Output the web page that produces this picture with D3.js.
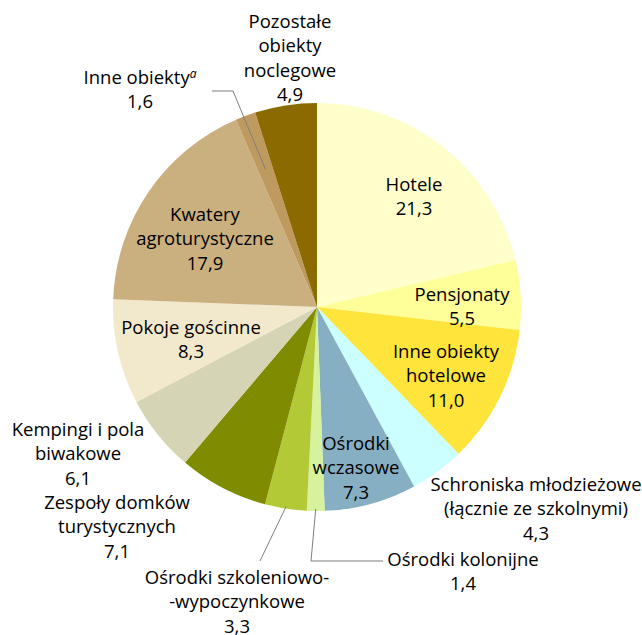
<!DOCTYPE html>
<html>
<head>
<meta charset="utf-8">
<script src="https://cdn.jsdelivr.net/npm/d3@7"></script>
<style>
  body { margin: 0; background: #fff; }
  text { font-family: "Open Sans", sans-serif; font-size: 18.5px; fill: #000; }
</style>
</head>
<body>
<svg id="chart" width="642" height="635"></svg>
<script>
// udział miejsc noclegowych wg rodzaju obiektu (%)
let categories = ['Hotele', 'Pensjonaty', 'Inne obiekty hotelowe', 'Schroniska młodzieżowe',
  'Ośrodki wczasowe', 'Ośrodki kolonijne', 'Ośrodki szkoleniowo-wypoczynkowe',
  'Zespoły domków turystycznych', 'Kempingi i pola biwakowe', 'Pokoje gościnne',
  'Kwatery agroturystyczne', 'Inne obiekty', 'Pozostałe obiekty noclegowe']
let values = [21.3, 5.5, 11.0, 4.3, 7.3, 1.4, 3.3, 7.1, 6.1, 8.3, 17.9, 1.6, 4.9]
let labelLines = [
  ['Hotele'], ['Pensjonaty'], ['Inne obiekty', 'hotelowe'],
  ['Schroniska młodzieżowe', '(łącznie ze szkolnymi)'], ['Ośrodki', 'wczasowe'],
  ['Ośrodki kolonijne'], ['Ośrodki szkoleniowo-', '-wypoczynkowe'],
  ['Zespoły domków', 'turystycznych'], ['Kempingi i pola', 'biwakowe'],
  ['Pokoje gościnne'], ['Kwatery', 'agroturystyczne'], ['Inne obiekty'],
  ['Pozostałe', 'obiekty', 'noclegowe']
]
let colors = ['#ffffcc', '#ffff99', '#ffe53b', '#ccffff', '#87afc3', '#d6f29c', '#b4c936',
  '#7f8c00', '#d5d5b6', '#f2e9cd', '#cbb07f', '#bf9a5e', '#8b6b00']

// label placement (centre x, first baseline y) and leader lines
let labelPos = [
  [414, 191], [462, 301], [446, 358], [536, 491], [356, 450], [463, 566], [237, 584],
  [117, 509], [78, 436], [191, 334], [205, 221], [140, 84], [290, 28]
]
let leaders = { 5: [[311, 561], [383, 561]], 6: [[260, 561]], 11: [[233, 91], [212, 91]] }
let leaderR = { 5: 0.99, 6: 0.99, 11: 0.72 }

let cx = 317, cy = 307, r = 204
let lineH = 24.3
let fmt = v => d3.format('.1f')(v).replace('.', ',')

let svg = d3.select('#chart')
let pie = d3.pie().sort(null).value(d => d)
let arcs = pie(values)
let arc = d3.arc().innerRadius(0).outerRadius(r)

let g = svg.append('g').attr('transform', `translate(${cx}, ${cy})`)
g.selectAll('path')
  .data(arcs)
  .enter()
    .append('path')
    .attr('d', arc)
    .style('fill', (d, i) => colors[i])

// leader lines
Object.keys(leaders).forEach(k => {
  let a = arcs[k]
  let mid = (a.startAngle + a.endAngle) / 2
  let rr = r * leaderR[k]
  let p0 = [cx + rr * Math.sin(mid), cy - rr * Math.cos(mid)]
  let pts = [p0].concat(leaders[k])
  svg.append('path')
    .attr('d', d3.line()(pts))
    .style('fill', 'none')
    .style('stroke', '#7f7f7f')
    .style('stroke-width', 1)
})

// labels
arcs.forEach((a, i) => {
  let lines = labelLines[i].concat([fmt(values[i])])
  let t = svg.append('text')
    .attr('x', labelPos[i][0])
    .attr('y', labelPos[i][1])
    .style('text-anchor', 'middle')
  lines.forEach((l, j) => {
    t.append('tspan')
      .attr('x', labelPos[i][0])
      .attr('dy', j === 0 ? 0 : (i === 11 ? lineH + 6 : lineH))
      .text(l)
    if (i === 11 && j === 0) {
      // superscript "a" after "Inne obiekty"
      t.append('tspan').text('a')
        .style('font-style', 'italic')
        .style('font-size', '12px')
        .attr('dy', -6)
    }
  })
})
</script>
</body>
</html>
